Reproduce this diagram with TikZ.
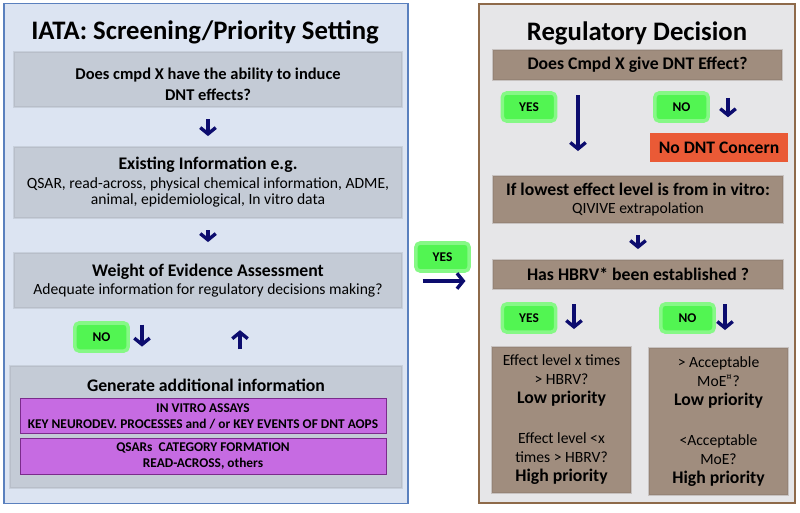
\documentclass[tikz,border=0pt]{standalone}
\usepackage{fontspec}
\setmainfont{Carlito}
\usepackage{xcolor}
\usetikzlibrary{calc,positioning,arrows.meta}

\definecolor{lblue}{HTML}{DCE4F2}
\definecolor{lborder}{HTML}{5A80BE}
\definecolor{lgray}{HTML}{C4CBD6}
\definecolor{rgray}{HTML}{E6E6E8}
\definecolor{rborder}{HTML}{8E6A4A}
\definecolor{brn}{HTML}{A08D7E}
\definecolor{orng}{HTML}{EA5A36}
\definecolor{prpl}{HTML}{C66BE2}
\definecolor{prpd}{HTML}{7B2B8C}
\definecolor{grn}{HTML}{52F552}
\definecolor{navy}{HTML}{0C0C6E}

\newcommand{\hd}{\bfseries\fontsize{12.6}{14.5}\selectfont}
\newcommand{\bd}{\fontsize{11.1}{13.5}\selectfont}

\begin{document}
\begin{tikzpicture}[x=0.025cm, y=-0.025cm,
  pnl/.style={draw, line width=0.8pt, minimum height=12.475cm},
  gbox/.style={fill=lgray, draw=lgray!80!black, draw opacity=0.3, line width=1.5pt, align=center, minimum width=9.7cm},
  bbox/.style={fill=brn, draw=brn!80!black, draw opacity=0.3, line width=1.5pt, align=center},
  pbox/.style={fill=prpl, draw=prpd, line width=0.6pt, align=center, minimum width=9.15cm, minimum height=0.8cm, font=\bfseries\fontsize{9.5}{11.4}\selectfont},
  tag/.style={fill=grn, draw=grn!70!white, line width=2.5pt, rounded corners=3pt, minimum width=1.33cm, minimum height=0.7cm, font=\bfseries\fontsize{9.5}{10}\selectfont},
  myarr/.style={-{Straight Barb[length=4.5pt,width=11pt,line width=2.4pt]}, line width=2.5pt, navy},
  ttl/.style={font=\bfseries\fontsize{19}{22}\selectfont}]
\useasboundingbox (0,0) rectangle (800,512);

% left panel
\node[pnl, fill=lblue, draw=lborder, minimum width=10.1cm] (pl) at (206,253.5){};
\node[ttl] (tl) at (205,32){IATA: Screening/Priority Setting};
\node[gbox, minimum height=1.375cm, font=\bfseries\fontsize{11.7}{14.3}\selectfont] (q1) at (208,79.5){\rule{0pt}{15pt}Does cmpd X have the ability to induce\\DNT effects?};
\node[gbox, minimum height=1.775cm] (ex) at (208,182.5){\hd Existing Information e.g.\\[1pt]\bd QSAR, read-across, physical chemical information, ADME,\\\bd animal, epidemiological, In vitro data};
\node[gbox, minimum height=1.375cm] (woe) at (208,280.5){\hd Weight of Evidence Assessment\\[1pt]\bd Adequate information for regulatory decisions making?};
\node[tag] (nol) at (101.5,337){NO};
\node[gbox, minimum width=9.8cm, minimum height=3.05cm] (gen) at (206,427){};
\node[font=\bfseries\fontsize{12.6}{15}\selectfont] (gt) at (206,385){Generate additional information};
\node[pbox] (p1) at (203,416){IN VITRO ASSAYS\\KEY NEURODEV. PROCESSES and / or KEY EVENTS OF DNT AOPS};
\node[pbox] (p2) at (203,456){QSARs~~CATEGORY FORMATION\\READ-ACROSS, others};

% middle
\node[tag] (yesm) at (442.5,257){YES};
\coordinate (ym) at (0,281);

% right panel
\node[pnl, fill=rgray, draw=rborder, line width=1.2pt, minimum width=7.9cm] (pr) at (637,253.5){};
\node[ttl] (tr) at (637,33){Regulatory Decision};
\node[bbox, minimum width=7.225cm, minimum height=0.75cm] (r1) at (637.5,65){\hd Does Cmpd X give DNT Effect?};
\node[tag] (yes1) at (529,107){YES};
\node[tag] (no1) at (681.5,107){NO};
\node[fill=orng, minimum width=3.45cm, minimum height=0.725cm, font=\bfseries\fontsize{12.5}{15}\selectfont] (ndc) at (719,147.5){No DNT Concern};
\node[bbox, minimum width=7.25cm, minimum height=1.175cm] (r2) at (638,199.5){\hd If lowest effect level is from in vitro:\\[1pt]\bd QIVIVE extrapolation};
\node[bbox, minimum width=7.25cm, minimum height=0.725cm] (r3) at (638,274.5){\hd Has HBRV* been established ?};
\node[tag] (yes2) at (529,318){YES};
\node[tag] (no2) at (687.5,318){NO};
\node[bbox, minimum width=3.475cm, minimum height=3.65cm, font=\bd] (r4) at (561.5,420){Effect level x times\\> HBRV?\\{\hd Low priority}\\[15pt]Effect level <x\\times > HBRV?\\{\hd High priority}};
\node[bbox, minimum width=3.475cm, minimum height=3.675cm, font=\bd] (r5) at (718.5,421.5){> Acceptable\\MoE\textsuperscript{¤}?\\{\hd Low priority}\\[15pt]<Acceptable\\MoE?\\{\hd High priority}};

% arrows
\foreach \i/\j in {q1/ex,ex/woe,r2/r3}{\draw[myarr, shorten <=8pt, shorten >=7pt] (\i) -- (\j);}
\coordinate (xa) at (142,0);
\coordinate (xb) at (240,0);
\coordinate (xc) at (578,0);
\coordinate (xd) at (728,0);
\coordinate (xe) at (574,0);
\coordinate (xf) at (725,0);
\draw[myarr, shorten <=11pt, shorten >=13pt] (woe.south -| xa) -- (gen.north -| xa);
\draw[myarr, shorten <=11pt, shorten >=15pt] (gen.north -| xb) -- (woe.south -| xb);
\draw[myarr, shorten <=10pt, shorten >=9pt] (pl.east |- ym) -- (pr.west |- ym);
\draw[myarr, shorten <=10pt, shorten >=17pt] (r1.south -| xc) -- (r2.north -| xc);
\draw[myarr, shorten <=12pt, shorten >=11pt] (r1.south -| xd) -- (ndc.north -| xd);
\draw[myarr, shorten <=10pt, shorten >=12pt] (r3.south -| xe) -- (r4.north -| xe);
\draw[myarr, shorten <=10pt, shorten >=12pt] (r3.south -| xf) -- (r5.north -| xf);
\end{tikzpicture}
\end{document}
